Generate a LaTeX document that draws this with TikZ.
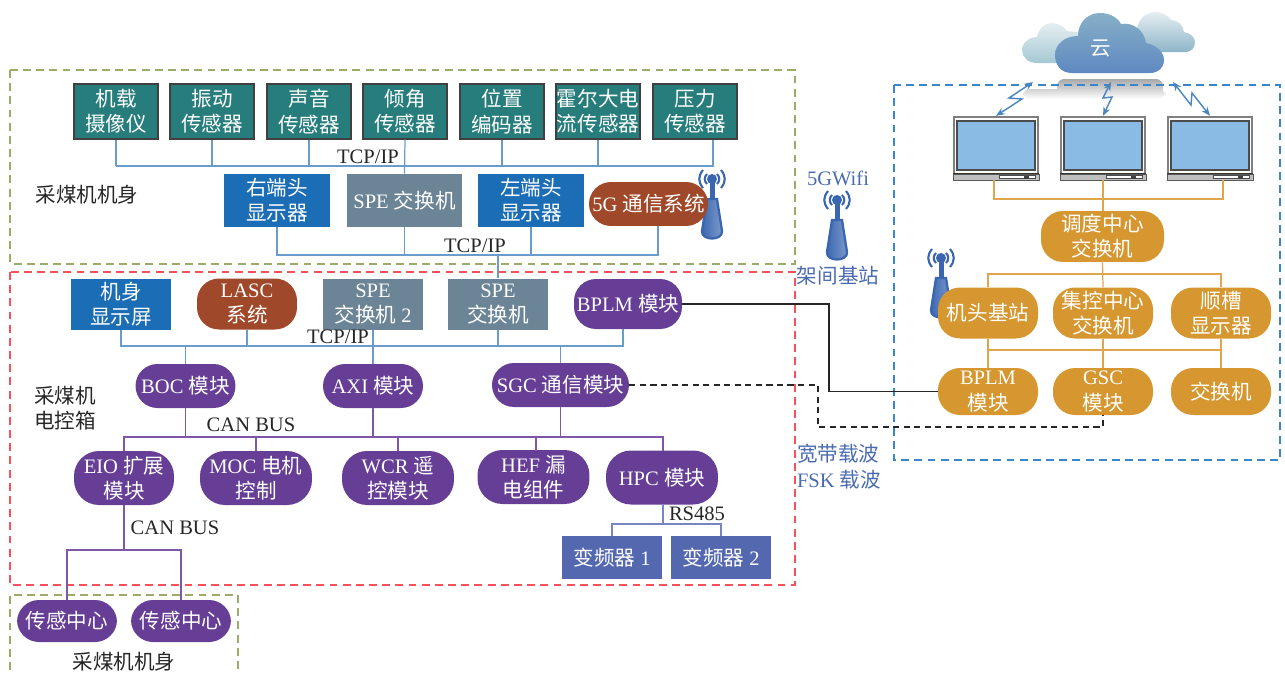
\documentclass[tikz,border=0pt]{standalone}
\usepackage{fontspec}
\setmainfont{Liberation Serif}
\newfontfamily\cjk{Noto Sans CJK SC}
\newcommand{\zh}[1]{{\cjk #1}}
\usetikzlibrary{arrows.meta}

\definecolor{cTeal}{HTML}{267D7B}
\definecolor{cBlue}{HTML}{1B6DB5}
\definecolor{cSlate}{HTML}{6B8496}
\definecolor{cRust}{HTML}{A0492A}
\definecolor{cPurple}{HTML}{663E96}
\definecolor{cIndigo}{HTML}{5468B0}
\definecolor{cOrange}{HTML}{D69731}
\definecolor{cNet}{HTML}{6A9CCB}
\definecolor{cBus}{HTML}{7E57A8}
\definecolor{cGold}{HTML}{E0A64E}
\definecolor{cLabel}{HTML}{4A6BB0}
\definecolor{cSpark}{HTML}{4A85BE}
\definecolor{cScreen}{HTML}{8ABBE5}
\definecolor{cMast}{HTML}{3A66B0}
\definecolor{cOlive}{HTML}{9BAC68}
\definecolor{cFrameBlue}{HTML}{3A86C8}
\definecolor{cFrameRed}{HTML}{F9505C}
\definecolor{cCloudTop}{HTML}{E6EEF2}
\definecolor{cCloudMid}{HTML}{8DB5C8}
\definecolor{cCloudLow}{HTML}{A4C8D4}
\definecolor{cFrontTop}{HTML}{86B0C6}
\definecolor{cFrontMid}{HTML}{92B8CC}
\definecolor{cFrontLow}{HTML}{5F88C2}

\tikzset{
  unitbox/.style={text=white, align=center, inner sep=0pt, minimum width=2cm, minimum height=1.02cm,
    font=\fontsize{11.7}{14.4}\selectfont},
  sensorbox/.style={unitbox, fill=cTeal, draw=black!75, line width=0.8pt, minimum width=1.68cm, minimum height=1.10cm},
  dispbox/.style={unitbox, fill=cBlue},
  slatebox/.style={unitbox, fill=cSlate},
  drivebox/.style={unitbox, fill=cIndigo, minimum height=0.86cm},
  rustpill/.style={unitbox, fill=cRust, rounded corners=0.44cm},
  purplepill/.style={unitbox, fill=cPurple, rounded corners=0.44cm, minimum height=0.88cm},
  tallpill/.style={purplepill, rounded corners=0.5cm, minimum height=1.08cm, minimum width=2.24cm},
  goldpill/.style={unitbox, fill=cOrange, rounded corners=0.44cm},
  plaintext/.style={align=left, inner sep=0pt, text=black!85, font=\fontsize{11.7}{14.4}\selectfont},
  bluetext/.style={plaintext, text=cLabel},
  netline/.style={draw=cNet, line width=0.7pt},
  busline/.style={draw=cBus, line width=0.7pt},
  goldline/.style={draw=cGold, line width=0.7pt},
  sparkline/.style={draw=cSpark, line width=0.8pt, {Stealth[length=5pt,width=4pt]}-{Stealth[length=5pt,width=4pt]}},
  framegreen/.style={draw=cOlive, line width=0.6pt, dash pattern=on 4.5pt off 3pt},
  framered/.style={draw=cFrameRed, line width=0.6pt, dash pattern=on 4.5pt off 3pt},
  frameblue/.style={draw=cFrameBlue, line width=0.7pt, dash pattern=on 4.5pt off 3pt},
}

\providecommand{\basestation}[2]{%
  \begin{scope}[shift={(#1,#2)}]
    \draw[cMast, line width=1.2pt] (-5,-5) .. controls (-8,-2) and (-8,2) .. (-5,5);
    \draw[cMast, line width=1.2pt] (5,-5) .. controls (8,-2) and (8,2) .. (5,5);
    \draw[cMast, line width=1.2pt] (-9,-9) .. controls (-14,-3) and (-14,3) .. (-9,9);
    \draw[cMast, line width=1.2pt] (9,-9) .. controls (14,-3) and (14,3) .. (9,9);
    \fill[cMast] (-2.5,0) rectangle (2.5,24);
    \fill[cMast] (0,0) circle[radius=5];
    \shade[left color=cMast, right color=cMast!65!white, draw=cMast, line width=1.3pt]
      (-5,20) -- (5,20) -- (10,52) .. controls (11,62) and (-11,62) .. (-10,52) -- cycle;
  \end{scope}
}

\providecommand{\monitor}[3]{%
  \node[draw=black!50, fill=white, line width=1.3pt, inner sep=0pt, minimum width=1.68cm, minimum height=1.24cm] (#1) at (#2,#3) {};
  \begin{scope}[shift={(#2,#3)}]
    \fill[cScreen] (-39,-27) rectangle (39,22);
    \draw[black!70, line width=1pt] (-39,-27) rectangle (39,22);
    \fill[black!25] (-43,26) rectangle (43,32);
    \fill[black!80] (-43,25) rectangle (43,26.5);
    \fill[white] (3,27.5) rectangle (39,30.5);
    \draw[black!70, line width=0.5pt] (3,27.5) rectangle (39,30.5);
    \fill[black!75] (28,28) rectangle (33,30.5);
    \draw[black!65, line width=0.5pt] (-43,26) rectangle (43,32);
  \end{scope}
}

\begin{document}
\begin{tikzpicture}[x=0.02cm, y=-0.02cm, font=\fontsize{11.7}{14.4}\selectfont]
  \useasboundingbox (0,0) rectangle (1285,673);

  % --------------------------------------------------------------------------
  % Dashed frames
  % --------------------------------------------------------------------------
  \draw[framegreen] (10,70) rectangle (795,264);
  \draw[framered] (10,272) rectangle (795,585);
  \draw[framegreen] (10,670) -- (10,595) -- (238,595) -- (238,670);

  % --------------------------------------------------------------------------
  % Cloud and its reflection
  % --------------------------------------------------------------------------
  \shade[top color=black!18, bottom color=white, rounded corners=4pt] (1023,89) rectangle (1165,99);
  \shade[top color=black!34, bottom color=white, rounded corners=4pt] (1057,79) rectangle (1163,99);
  \draw[frameblue] (894,85) rectangle (1280,460);

  \shade[top color=cCloudTop, middle color=cCloudMid, bottom color=cCloudLow]
    (1037,63) .. controls (1028,63) and (1022,57) .. (1022,50)
    .. controls (1022,43) and (1029,37) .. (1037,37)
    .. controls (1039,28) and (1045,23) .. (1052,23)
    .. controls (1059,23) and (1064,27) .. (1067,31)
    -- (1090,33) -- (1090,63) -- cycle;
  \shade[top color=cCloudTop, middle color=cCloudMid, bottom color=cCloudMid]
    (1130,52) -- (1138,25)
    .. controls (1141,16) and (1148,12) .. (1155,12)
    .. controls (1162,12) and (1168,15) .. (1171,20)
    .. controls (1178,20) and (1183,25) .. (1184,32)
    .. controls (1190,33) and (1195,37) .. (1195,42)
    .. controls (1195,48) and (1191,52) .. (1186,52) -- cycle;
  \shade[top color=cFrontTop, middle color=cFrontMid, bottom color=cFrontLow]
    (1072,73) .. controls (1060,73) and (1055,64) .. (1055,55)
    .. controls (1055,44) and (1065,36) .. (1078,36)
    .. controls (1078,22) and (1088,13) .. (1100,13)
    .. controls (1110,13) and (1118,18) .. (1121,24)
    .. controls (1133,22) and (1144,30) .. (1146,43)
    .. controls (1156,45) and (1164,52) .. (1164,60)
    .. controls (1164,68) and (1158,73) .. (1150,73) -- cycle;
  \node[text=white] (cloudName) at (1101,49) {\zh{云}};

  % --------------------------------------------------------------------------
  % Base stations (third one sits behind its pill)
  % --------------------------------------------------------------------------
  \basestation{712}{179}
  \basestation{837}{200}
  \basestation{941}{258}

  % --------------------------------------------------------------------------
  % Shearer body: sensors and network
  % --------------------------------------------------------------------------
  \node[sensorbox] (camBox) at (116,111.5) {\zh{机载}\\\zh{摄像仪}};
  \node[sensorbox] (vibBox) at (212,111.5) {\zh{振动}\\\zh{传感器}};
  \node[sensorbox] (sndBox) at (309,111.5) {\zh{声音}\\\zh{传感器}};
  \node[sensorbox] (tiltBox) at (405,111.5) {\zh{倾角}\\\zh{传感器}};
  \node[sensorbox] (posBox) at (502,111.5) {\zh{位置}\\\zh{编码器}};
  \node[sensorbox] (hallBox) at (598,111.5) {\zh{霍尔大电}\\\zh{流传感器}};
  \node[sensorbox] (pressBox) at (695,111.5) {\zh{压力}\\\zh{传感器}};

  \node[dispbox, minimum width=2.12cm, minimum height=1.06cm] (rightDisp) at (277,200.5) {\zh{右端头}\\\zh{显示器}};
  \node[slatebox, minimum width=2.30cm, minimum height=1.06cm] (speTop) at (404.5,200.5) {SPE \zh{交换机}};
  \node[dispbox, minimum width=2.12cm, minimum height=1.06cm] (leftDisp) at (531,200.5) {\zh{左端头}\\\zh{显示器}};
  \node[rustpill, minimum width=2.38cm, minimum height=0.88cm] (fiveG) at (648.5,204) {5G \zh{通信系统}};

  \node[plaintext] (tcpTopText) at (368,157) {TCP/IP};
  \node[plaintext] (tcpMidText) at (475,246) {TCP/IP};
  \node[plaintext] (bodyText) at (87,195) {\zh{采煤机机身}};

  \coordinate (tcpTop) at (405,166);
  \coordinate (pressTap) at (713,140);
  \coordinate (tcpMid) at (498,255);
  \coordinate (fiveTap) at (658,226);

  \foreach \s in {camBox,vibBox,sndBox,posBox,hallBox}
    \draw[netline] (\s.south) -- (\s.south |- tcpTop);
  \draw[netline] (camBox.south |- tcpTop) -| (pressTap);
  \draw[netline] (tiltBox.south) -- (speTop.north);
  \draw[netline] (rightDisp.south) |- (tcpMid) -| (fiveTap);
  \draw[netline] (speTop.south) -- (speTop.south |- tcpMid);
  \draw[netline] (leftDisp.south) -- (leftDisp.south |- tcpMid);

  % --------------------------------------------------------------------------
  % Electric control box
  % --------------------------------------------------------------------------
  \node[dispbox] (bodyScreen) at (121,304.5) {\zh{机身}\\\zh{显示屏}};
  \node[rustpill] (lascPill) at (247,304) {LASC\\\zh{系统}};
  \node[slatebox] (speTwo) at (373,304) {SPE\\\zh{交换机} 2};
  \node[slatebox] (speLow) at (498,304) {SPE\\\zh{交换机}};
  \node[purplepill, minimum width=2.16cm, minimum height=1.0cm] (bplmLeft) at (628,304) {BPLM \zh{模块}};

  \draw[netline] (tcpMid) -- (speLow.north);

  \node[purplepill] (bocPill) at (185.5,386) {BOC \zh{模块}};
  \node[purplepill] (axiPill) at (373,386) {AXI \zh{模块}};
  \node[purplepill, minimum width=2.74cm] (sgcPill) at (560.5,385) {SGC \zh{通信模块}};

  \node[tallpill, minimum width=2cm] (eioPill) at (124,478) {EIO \zh{扩展}\\\zh{模块}};
  \node[tallpill] (mocPill) at (256,478) {MOC \zh{电机}\\\zh{控制}};
  \node[tallpill] (wcrPill) at (398,478) {WCR \zh{遥}\\\zh{控模块}};
  \node[tallpill] (hefPill) at (533.5,477) {HEF \zh{漏}\\\zh{电组件}};
  \node[tallpill] (hpcPill) at (662,477.5) {HPC \zh{模块}};

  \node[drivebox] (driveOne) at (612,557.5) {\zh{变频器} 1};
  \node[drivebox] (driveTwo) at (721,557.5) {\zh{变频器} 2};

  \node[plaintext] (tcpLowText) at (338,337) {TCP/IP};
  \node[plaintext] (canTopText) at (251,425) {CAN BUS};
  \node[plaintext] (canLowText) at (175,528) {CAN BUS};
  \node[plaintext] (rsText) at (697,514) {RS485};
  \node[plaintext] (boxText) at (65,408.5) {\zh{采煤机}\\\zh{电控箱}};

  \coordinate (tcpLow) at (373,346);
  \coordinate (canTop) at (373,437);
  \coordinate (canLow) at (124,550);
  \coordinate (rsBus) at (663,524);
  \coordinate (bplmTap) at (623,329);
  \coordinate (hefTap) at (536,451);
  \coordinate (hpcTap) at (663,451);
  \coordinate (hpcOut) at (663,505);

  \draw[netline] (bodyScreen.south) |- (tcpLow) -| (bplmTap);
  \foreach \s in {lascPill,speTwo,speLow}
    \draw[netline] (\s.south) -- (\s.south |- tcpLow);
  \foreach \s in {bocPill,axiPill,sgcPill}
    \draw[netline] (\s.north) -- (\s.north |- tcpLow);
  \foreach \s in {bocPill,axiPill,sgcPill}
    \draw[busline] (\s.south) -- (\s.south |- canTop);
  \draw[busline] (eioPill.north) |- (canTop) -| (hpcTap);
  \foreach \s in {mocPill,wcrPill}
    \draw[busline] (\s.north) -- (\s.north |- canTop);
  \draw[busline] (hefTap) -- (hefTap |- canTop);
  \draw[busline] (eioPill.south) -- (canLow);

  % --------------------------------------------------------------------------
  % Sensor hubs at the bottom left
  % --------------------------------------------------------------------------
  \node[purplepill, minimum height=0.84cm] (hubOne) at (67,621) {\zh{传感中心}};
  \node[purplepill, minimum height=0.84cm] (hubTwo) at (181,621) {\zh{传感中心}};
  \node[plaintext] (footText) at (124,662) {\zh{采煤机机身}};
  \draw[busline] (hubOne.north) |- (canLow) -| (hubTwo.north);

  \draw[draw=cIndigo!80!white, line width=0.7pt] (hpcOut) -- (rsBus);
  \draw[draw=cIndigo!80!white, line width=0.7pt] (driveOne.north) |- (rsBus) -| (driveTwo.north);

  % --------------------------------------------------------------------------
  % Side labels
  % --------------------------------------------------------------------------
  \node[bluetext] (wifiText) at (838,178) {5GWifi};
  \node[bluetext] (rackText) at (838,276) {\zh{架间基站}};
  \node[bluetext] (carrierText) at (839,466.5) {\zh{宽带载波}\\FSK \zh{载波}};

  % --------------------------------------------------------------------------
  % RIGHT: dispatch centre and roadway
  % --------------------------------------------------------------------------
  \monitor{monA}{996}{148}
  \monitor{monB}{1103}{148}
  \monitor{monC}{1210}{148}

  \node[goldpill, minimum width=2.46cm] (dispatchPill) at (1102.5,236.5) {\zh{调度中心}\\\zh{交换机}};
  \node[goldpill] (headPill) at (988,313) {\zh{机头基站}};
  \node[goldpill] (ctrlPill) at (1103,313) {\zh{集控中心}\\\zh{交换机}};
  \node[goldpill] (gatePill) at (1221,313) {\zh{顺槽}\\\zh{显示器}};
  \node[goldpill, minimum height=0.94cm] (bplmRight) at (988,391.5) {BPLM\\\zh{模块}};
  \node[goldpill, minimum height=0.94cm] (gscPill) at (1103,391.5) {GSC\\\zh{模块}};
  \node[goldpill, minimum height=0.94cm] (swPill) at (1221,391.5) {\zh{交换机}};

  \coordinate (monBus) at (1103,199);
  \coordinate (monTapA) at (994,180);
  \coordinate (monTapC) at (1223,180);
  \coordinate (gateBus) at (1103,274);
  \coordinate (swBus) at (1103,350);

  \draw[goldline] (monTapA) |- (monBus) -| (monTapC);
  \draw[goldline] (monB.south) -- (dispatchPill.north -| monB.south);
  \draw[goldline] (dispatchPill.south) -- (ctrlPill.north);
  \draw[goldline] (headPill.north) |- (gateBus) -| (gatePill.north);
  \draw[goldline, line width=1pt] (headPill.south) |- (swBus) -| (gatePill.south);
  \draw[goldline] (headPill.south) -- (bplmRight.north);
  \draw[goldline] (ctrlPill.south) -- (gscPill.north);
  \draw[goldline] (gatePill.south) -- (swPill.north);

  % links to the cloud
  \coordinate (skyA) at (1033,82);
  \coordinate (skyB) at (1111,82);
  \coordinate (skyC) at (1173,82);
  \draw[sparkline] (monA.north) -- (1022,99) -- (1009,98) -- (skyA);
  \draw[sparkline] (monB.north) -- (1112,97) -- (1103,98) -- (skyB);
  \draw[sparkline] (monC.north) -- (1192,93) -- (1191,105) -- (skyC);

  % links between the control box and the roadway
  \coordinate (lanTurn) at (829,345);
  \coordinate (fskTurn) at (818,427);
  \draw[black!85, line width=0.7pt] (bplmLeft.east) -| (lanTurn) |- (bplmRight.west);
  \draw[black!85, line width=0.7pt, dash pattern=on 3.5pt off 2.5pt] (sgcPill.east) -| (fskTurn) -| (gscPill.south);

\end{tikzpicture}
\end{document}
